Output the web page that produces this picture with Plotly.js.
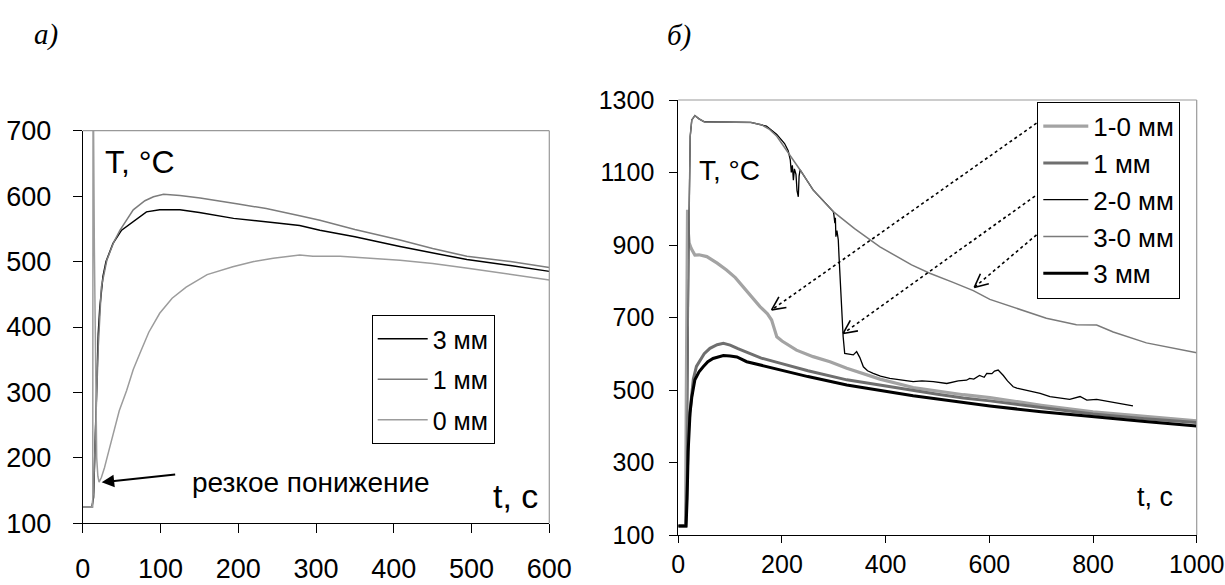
<!DOCTYPE html>
<html><head><meta charset="utf-8">
<script src="https://cdn.plot.ly/plotly-3.0.1.min.js"></script>
<style>
html,body{margin:0;padding:0;background:#fff}
#chart{width:1225px;height:585px}
</style>
</head><body><div id="chart"></div>
<script>
// ---------- Chart а): left panel ----------
const leftT3 = [0,12,14,16,18,20,22,26,30,39,50,65,82,99,125,150,194,250,279,305,350,408,450,494,550,600];
const leftV3 = [125,125,140,220,320,390,430,477,500,528,548,561,576,579,579,575,566,559,555,548,538,523,513,503,494,485];
const leftT1 = [0,12,14,16,18,20,24,31,40,48,65,80,91,104,125,151,200,236,279,305,350,408,450,494,550,600];
const leftV1 = [125,125,150,230,303,370,461,502,530,548,579,593,599,603,601,597,588,581,570,563,549,533,520,508,500,491];
const leftT0 = [0,12,12.9,13.3,14,15,16.7,18,19.5,21,24,28,33,39,47,56.5,65,73.6,85,99,115,133,160,193,220,245,279,296,331,408,450,493,550,600];
const leftV0 = [125,125,125,760,700,520,300,200,172,163,170,185,208,237,272,303,335,360,392,421,444,461,480,492,500,505,510,508,508,502,497,490,481,472];
const leftNames = ['3 мм','1 мм','0 мм'];

// ---------- Chart б): right panel ----------
const rT10 = [0,14,15.5,17,17.8,19,21,25,32,40,55,75,93,110,125,140,157.6,172,180,185,190,200,228,260,292.6,325,389,453,500,550,601,700,800,900,1000];
const rV10 = [125,125,500,900,997,940,905,890,872,873,868,850,831,810,785,760,730,710,693,670,647,635,610,592,578,560,530,507,497,487,479,458,440,427,415];
const rT1 = [0,14,16,18,20,22.6,26,29,35,42,50,61,75,87,100,115,132,160,196,250,325,389,453,500,550,601,700,800,900,1000];
const rV1 = [125,125,200,330,400,440,490,530,565,583,600,615,625,629,624,614,604,588,574,553,528,513,498,488,478,470,452,434,421,410];
const rT20 = [0,15,17,19,21,23,26,32,40,50,100,140,170,190,205,212,216,218,220,222,224,227,229,231.5,233,235,260,280,299,300,302,303,304,306,308.6,310,312,315,318,321,330,337.6,344,350,357,365,376,390,408,430,453,470,492,518,540,556,562,570,581,590,595,605,610,617,622,627,635,646,653,670,698,717,755,775,788,807,826,850,871,877];
const rV20 = [125,125,300,700,1000,1200,1245,1257,1248,1240,1240,1238,1228,1205,1180,1160,1135,1100,1120,1079,1110,1095,1050,1033,1090,1107,1052,1020,992,985,960,975,923,940,914,870,803,720,647,601,598,597,606,590,564,553,546,538,532,528,523,525,523,518,525,527,532,530,540,535,546,545,552,555,548,540,525,509,505,500,491,482,474,482,472,474,469,462,456,456];
const rT30 = [0,15,17,19,21,23,26,32,40,50,100,140,160,175,190,205,212,235,260,299,340,389,450,485,530,569,601,646,710,768,807,839,903,1000];
const rV30 = [125,125,300,700,1000,1200,1245,1257,1248,1240,1240,1238,1232,1220,1200,1170,1153,1107,1052,992,945,895,845,822,797,774,750,728,698,680,679,660,630,603];
const rT3 = [0,15,17,19,22.6,26,32,40,48,57,67,87,100,113,132,160,196,250,325,389,453,500,550,601,700,800,900,1000];
const rV3 = [125,125,200,330,436,480,528,550,564,578,587,595,594,591,578,568,555,537,514,498,484,475,465,456,440,426,413,401];
const rightNames = ['1-0 мм','1 мм','2-0 мм','3-0 мм','3 мм'];

// arrows (tail -> tip) in data units of panel б)
const arrowTailT = [691, 688, 691];
const arrowTailV = [1236, 1035, 928];
const arrowTipT  = [180, 318, 571];
const arrowTipV  = [721, 656, 783];

const FONT = 'Liberation Sans, Arial, sans-serif';
const W = 1225, H = 585;
const lx = [82.7/W, 549.3/W], ly = [1-523.3/H, 1-130.7/H];
const rx = [678.3/W, 1196.7/W], ry = [1-535/H, 1-100/H];

const traces = [
  {x:leftT3, y:leftV3, name:leftNames[0], type:'scatter', mode:'lines', line:{color:'#000000', width:1.5}, xaxis:'x', yaxis:'y', legend:'legend', legendgroup:'a'},
  {x:leftT1, y:leftV1, name:leftNames[1], type:'scatter', mode:'lines', line:{color:'#7c7c7c', width:1.5}, xaxis:'x', yaxis:'y', legend:'legend', legendgroup:'b'},
  {x:leftT0, y:leftV0, name:leftNames[2], type:'scatter', mode:'lines', line:{color:'#9c9c9c', width:1.5}, xaxis:'x', yaxis:'y', legend:'legend', legendgroup:'c'},
  {x:rT10, y:rV10, name:rightNames[0], type:'scatter', mode:'lines', line:{color:'#a3a3a3', width:3.2}, xaxis:'x2', yaxis:'y2', legend:'legend2'},
  {x:rT1,  y:rV1,  name:rightNames[1], type:'scatter', mode:'lines', line:{color:'#6f6f6f', width:3}, xaxis:'x2', yaxis:'y2', legend:'legend2'},
  {x:rT20, y:rV20, name:rightNames[2], type:'scatter', mode:'lines', line:{color:'#000000', width:1.3}, xaxis:'x2', yaxis:'y2', legend:'legend2'},
  {x:rT30, y:rV30, name:rightNames[3], type:'scatter', mode:'lines', line:{color:'#7a7a7a', width:1.5}, xaxis:'x2', yaxis:'y2', legend:'legend2'},
  {x:rT3,  y:rV3,  name:rightNames[4], type:'scatter', mode:'lines', line:{color:'#000000', width:3}, xaxis:'x2', yaxis:'y2', legend:'legend2'}
];

const axCommon = {showgrid:false, zeroline:false, showline:true, linecolor:'#000', linewidth:1, ticks:'outside', tickcolor:'#000', tickwidth:1, tickmode:'linear'};

// dotted arrows with open heads, built from the arrow arrays
const shapes = [];
const kx = (rx[1]-rx[0])*W/1000, ky = (ry[1]-ry[0])*H/1200;
for (let i=0;i<arrowTailT.length;i++){
  shapes.push({type:'line', xref:'x2', yref:'y2', x0:arrowTailT[i], y0:arrowTailV[i], x1:arrowTipT[i], y1:arrowTipV[i], line:{color:'#000', width:1.6, dash:'dot'}});
  const dx = (arrowTailT[i]-arrowTipT[i])*kx, dy = -(arrowTailV[i]-arrowTipV[i])*ky;
  const L = Math.hypot(dx,dy), ux = dx/L, uy = dy/L;
  [0.45,-0.45].forEach(a=>{
    const c=Math.cos(a), s=Math.sin(a);
    const px = (ux*c - uy*s)*15, py = (ux*s + uy*c)*15;
    shapes.push({type:'line', xref:'x2', yref:'y2', x0:arrowTipT[i], y0:arrowTipV[i], x1:arrowTipT[i]+px/kx, y1:arrowTipV[i]-py/ky, line:{color:'#000', width:1.6}});
  });
}
// gray top/right frame
[['x','y'],['x2','y2']].forEach(([xa,ya])=>{
  shapes.push({type:'line', xref:xa+' domain', yref:ya+' domain', x0:0, y0:1, x1:1, y1:1, line:{color:'#999', width:1.2}});
  shapes.push({type:'line', xref:xa+' domain', yref:ya+' domain', x0:1, y0:0, x1:1, y1:1, line:{color:'#999', width:1.2}});
});

const layout = {
  width:W, height:H, margin:{l:0,r:0,t:0,b:0}, paper_bgcolor:'#fff', plot_bgcolor:'#fff',
  font:{family:FONT, color:'#000'},
  showlegend:true,
  xaxis: Object.assign({}, axCommon, {domain:lx, range:[0,600], tick0:0, dtick:100, ticklen:9, tickfont:{size:27, family:FONT}, ticklabelstandoff:12, anchor:'y'}),
  yaxis: Object.assign({}, axCommon, {domain:ly, range:[100,700], tick0:100, dtick:100, ticklen:9, tickfont:{size:27, family:FONT}, ticklabelstandoff:16, anchor:'x'}),
  xaxis2: Object.assign({}, axCommon, {domain:rx, range:[0,1000], tick0:0, dtick:200, ticklen:7, tickfont:{size:25, family:FONT}, ticklabelstandoff:0, anchor:'y2'}),
  yaxis2: Object.assign({}, axCommon, {domain:ry, range:[100,1300], tick0:100, dtick:200, ticklen:8, tickfont:{size:25, family:FONT}, ticklabelstandoff:10, anchor:'x2'}),
  legend:{x:371.7/W, y:1-315/H, xanchor:'left', yanchor:'top', bordercolor:'#000', borderwidth:1, bgcolor:'#fff', font:{size:25, family:FONT}, tracegroupgap:5, itemwidth:50},
  legend2:{x:1037.3/W, y:1-101.7/H, xanchor:'left', yanchor:'top', bordercolor:'#000', borderwidth:1, bgcolor:'#fff', font:{size:26, family:FONT}, itemwidth:45},
  shapes: shapes,
  annotations:[
    {xref:'paper', yref:'paper', x:103/W, y:1-162/H, xanchor:'left', yanchor:'middle', text:'T, °C', showarrow:false, font:{size:32, family:FONT}},
    {xref:'paper', yref:'paper', x:540/W, y:1-496/H, xanchor:'right', yanchor:'middle', text:'t, c', showarrow:false, font:{size:34, family:FONT}},
    {xref:'paper', yref:'paper', x:190/W, y:1-482/H, xanchor:'left', yanchor:'middle', text:'резкое понижение', showarrow:false, font:{size:28, family:FONT}},
    {xref:'x', yref:'y', x:24.4, y:162.7, text:'', showarrow:true, ax:75, ay:-8, arrowhead:2, arrowsize:1.25, arrowwidth:2, arrowcolor:'#000'},
    {xref:'paper', yref:'paper', x:696.7/W, y:1-170/H, xanchor:'left', yanchor:'middle', text:'T, °C', showarrow:false, font:{size:28, family:FONT}},
    {xref:'paper', yref:'paper', x:1175/W, y:1-497/H, xanchor:'right', yanchor:'middle', text:'t, c', showarrow:false, font:{size:27, family:FONT}},
    {xref:'paper', yref:'paper', x:31.7/W, y:1-34/H, xanchor:'left', yanchor:'middle', text:'<i>а)</i>', showarrow:false, font:{size:29, family:'Liberation Serif, Times New Roman, serif'}},
    {xref:'paper', yref:'paper', x:665/W, y:1-35/H, xanchor:'left', yanchor:'middle', text:'<i>б)</i>', showarrow:false, font:{size:29, family:'Liberation Serif, Times New Roman, serif'}}
  ]
};

Plotly.newPlot('chart', traces, layout, {staticPlot:true, displayModeBar:false});
</script>
</body></html>
